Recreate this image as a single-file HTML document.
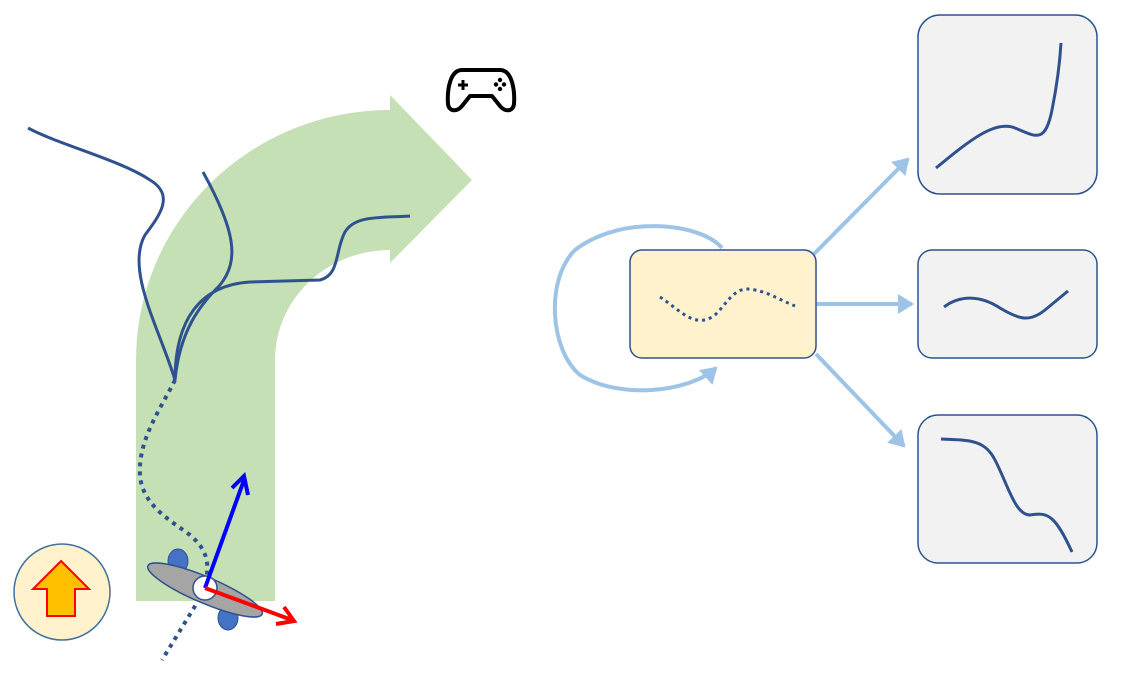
<!DOCTYPE html><html><head><style>body{margin:0;background:#fff}svg{display:block}</style></head><body>
<svg width="1136" height="674" viewBox="0 0 1136 674" xmlns="http://www.w3.org/2000/svg">
<defs>
<marker id="lb" markerWidth="5" markerHeight="5" refX="3.5" refY="2.5" orient="auto" markerUnits="strokeWidth"><path d="M0,0 L4,2.5 L0,5 Z" fill="#9dc3e6"/></marker>
</defs>
<path d="M136,601 L136,360 A254,250 0 0 1 390,110 L390,95 L472,180 L390,263 L390,250 A115,110 0 0 0 275,360 L275,601 Z" fill="#c5e0b4"/>
<g fill="none" stroke="#2f528f" stroke-width="3">
<path d="M175,380 C160,330 125,270 145,235 C160,215 175,195 150,180 C120,160 60,145 28,128"/>
<path d="M175,380 C180,330 200,305 220,285 C240,260 235,230 203,172"/>
<path d="M175,380 C175,320 200,285 250,282 L320,280 C340,275 335,250 345,232 C355,215 380,218 410,216"/>
<path d="M175,380 C160,410 138,440 140,475 C142,505 170,520 190,535 C205,548 210,560 206,580" stroke-width="4" stroke-dasharray="4,5"/>
<path d="M200,598 L162,660" stroke-width="4" stroke-dasharray="4,5"/>
</g>
<ellipse cx="178" cy="561" rx="10" ry="12" fill="#4472c4" stroke="#2f528f"/>
<ellipse cx="228" cy="618" rx="10" ry="12" fill="#4472c4" stroke="#2f528f"/>
<ellipse cx="205" cy="590" rx="62" ry="13" transform="rotate(23 205 590)" fill="#a5a5a5" stroke="#2f528f" stroke-width="1.5"/>
<circle cx="205" cy="588" r="12" fill="#fff" stroke="#2f528f" stroke-width="1.5"/>
<path d="M205,588 L244,480 M232,488 L244,476 L248,495" stroke="#0000ff" stroke-width="4" fill="none"/>
<path d="M205,588 L292,620 M276,624 L294,621 L284,607" stroke="#ff0000" stroke-width="4" fill="none"/>
<circle cx="62" cy="592" r="48" fill="#fff2cc" stroke="#41719c" stroke-width="1.5"/>
<polygon points="61,561 89,589 75,589 75,616 47,616 47,589 33,589" fill="#ffc000" stroke="#ff0000" stroke-width="2"/>
<g fill="none" stroke="#000" stroke-width="4" stroke-linejoin="round">
<path d="M462,70 L500,70 C512,70 515,90 514,104 C513,112 505,112 500,106 L492,96 L470,96 L462,106 C457,112 449,112 448,104 C447,90 450,70 462,70 Z"/>
</g>
<path d="M458,85 h10 M463,80 v10" stroke="#000" stroke-width="3"/>
<circle cx="500" cy="80" r="2.2"/><circle cx="500" cy="89" r="2.2"/><circle cx="496" cy="84.5" r="2.2"/><circle cx="504" cy="84.5" r="2.2"/>
<g stroke="#9dc3e6" stroke-width="4" fill="none">
<path d="M722,248 C700,222 620,215 575,250 C545,280 550,350 580,375 C620,400 690,392 716,368" marker-end="url(#lb)"/>
<path d="M812,256 L908,159" marker-end="url(#lb)"/>
<path d="M816,304 L912,304" marker-end="url(#lb)"/>
<path d="M816,354 L904,446" marker-end="url(#lb)"/>
</g>
<rect x="630" y="250" width="186" height="108" rx="12" fill="#fff2cc" stroke="#2f528f" stroke-width="1.5"/>
<path d="M660,297 C680,310 695,330 715,315 C730,300 735,285 755,290 C770,293 780,300 795,306" fill="none" stroke="#2f528f" stroke-width="3" stroke-dasharray="3,4"/>
<g fill="#f2f2f2" stroke="#2f528f" stroke-width="1.5">
<rect x="918" y="15" width="179" height="179" rx="22"/>
<rect x="918" y="250" width="179" height="108" rx="14"/>
<rect x="918" y="415" width="179" height="148" rx="20"/>
</g>
<g fill="none" stroke="#2f528f" stroke-width="3">
<path d="M936,168 C970,140 995,120 1015,128 C1035,136 1045,145 1052,110 C1058,80 1060,60 1061,43"/>
<path d="M944,307 C960,295 980,295 1000,308 C1020,320 1030,322 1045,310 L1068,291"/>
<path d="M941,439 C970,440 985,440 995,460 C1008,485 1015,515 1030,515 C1048,512 1055,515 1072,552"/>
</g>
</svg>
</body></html>
